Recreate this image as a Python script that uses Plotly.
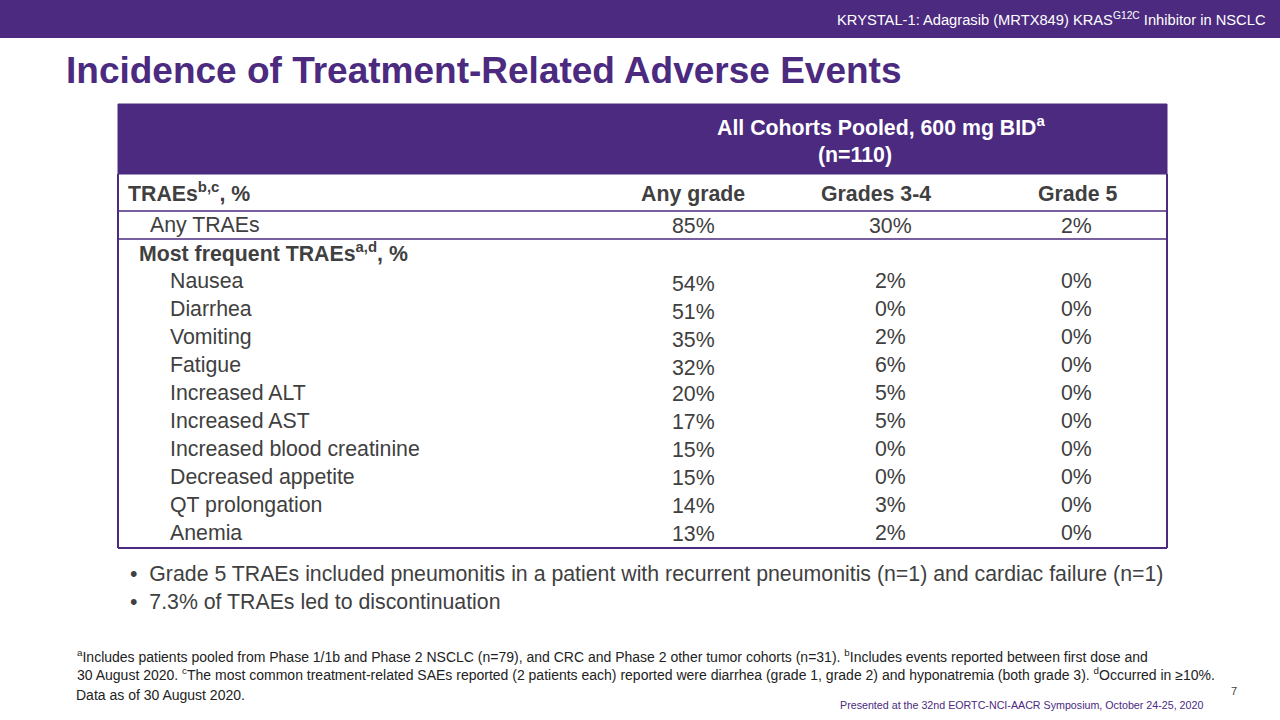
import plotly.graph_objects as go

# ---- data ----
col_headers = ["Any grade", "Grades 3-4", "Grade 5"]
any_traes = [85, 30, 2]
events = ["Nausea", "Diarrhea", "Vomiting", "Fatigue", "Increased ALT",
          "Increased AST", "Increased blood creatinine", "Decreased appetite",
          "QT prolongation", "Anemia"]
any_grade = [54, 51, 35, 32, 20, 17, 15, 15, 14, 13]
grades_3_4 = [2, 0, 2, 6, 5, 5, 0, 0, 3, 2]
grade_5 = [0, 0, 0, 0, 0, 0, 0, 0, 0, 0]

PURPLE = "#4B2A7F"
GRAY = "#404040"
FONT = "Liberation Sans, Arial, sans-serif"
BODY = 21.3

fig = go.Figure()
shapes = []
ann = []

def text(x, y, s, size=BODY, color=GRAY, xanchor="left", bold=False, yanchor="middle"):
    if bold:
        s = "<b>" + s + "</b>"
    ann.append(dict(x=x, y=y, xref="x", yref="y", text=s, showarrow=False,
                    xanchor=xanchor, yanchor=yanchor,
                    font=dict(family=FONT, size=size, color=color)))

# top bar
shapes.append(dict(type="rect", x0=0, x1=1280, y0=0, y1=38, fillcolor=PURPLE, line=dict(width=0), layer="below"))
text(1268, 19, "KRYSTAL-1: Adagrasib (MRTX849) KRAS<sup>G12C</sup> Inhibitor in NSCLC", size=14.7, color="white", xanchor="right")

# title
text(64, 70, "Incidence of Treatment-Related Adverse Events", size=37, color=PURPLE, bold=True)

# table geometry
L, R = 118, 1167
col_x_head = [693, 876, 1077]
col_x_val = [693, 890, 1076]

shapes.append(dict(type="rect", x0=L, x1=R, y0=104, y1=174, fillcolor=PURPLE, line=dict(color=PURPLE, width=1)))
text(715, 126, "All Cohorts Pooled, 600 mg BID<sup>a</sup>", color="white", xanchor="left", bold=True)
text(855, 155, "(n=110)", color="white", xanchor="center", bold=True)

# table borders
for y in (211, 239):
    shapes.append(dict(type="line", x0=L, x1=R, y0=y, y1=y, line=dict(color=PURPLE, width=1.5)))
shapes.append(dict(type="line", x0=L, x1=R, y0=548, y1=548, line=dict(color=PURPLE, width=2)))
shapes.append(dict(type="line", x0=L, x1=L, y0=174, y1=548, line=dict(color=PURPLE, width=2)))
shapes.append(dict(type="line", x0=R, x1=R, y0=174, y1=548, line=dict(color=PURPLE, width=2)))

# column header row
text(126, 192, "TRAEs<sup>b,c</sup>, %", bold=True)
for h, x in zip(col_headers, col_x_head):
    text(x, 194, h, xanchor="center", bold=True)

# Any TRAEs row
text(148, 225, "Any TRAEs")
for v, x in zip(any_traes, col_x_val):
    text(x, 226, f"{v}%", xanchor="center")

# Most frequent
text(137, 252, "Most frequent TRAEs<sup>a,d</sup>, %", bold=True)
for i, ev in enumerate(events):
    y = 281 + 28 * i
    text(168, y, ev)
    text(col_x_val[0], y + (3 if i < 4 else 1), f"{any_grade[i]}%", xanchor="center")
    text(col_x_val[1], y, f"{grades_3_4[i]}%", xanchor="center")
    text(col_x_val[2], y, f"{grade_5[i]}%", xanchor="center")

# bullets
text(128, 574, "•  Grade 5 TRAEs included pneumonitis in a patient with recurrent pneumonitis (n=1) and cardiac failure (n=1)")
text(128, 602, "•  7.3% of TRAEs led to discontinuation")

# footnotes
text(75, 656, "<sup>a</sup>Includes patients pooled from Phase 1/1b and Phase 2 NSCLC (n=79), and CRC and Phase 2 other tumor cohorts (n=31). <sup>b</sup>Includes events reported between first dose and", size=14, color="#222222")
text(75, 674, "30 August 2020. <sup>c</sup>The most common treatment-related SAEs reported (2 patients each) reported were diarrhea (grade 1, grade 2) and hyponatremia (both grade 3). <sup>d</sup>Occurred in ≥10%.", size=14, color="#222222")
text(74, 695, "Data as of 30 August 2020.", size=14, color="#222222")
text(1239, 691, "7", size=11, color=GRAY, xanchor="right")
text(1205, 705, "Presented at the 32nd EORTC-NCI-AACR Symposium, October 24-25, 2020", size=10.7, color=PURPLE, xanchor="right")

fig.update_layout(
    width=1280, height=720,
    margin=dict(l=0, r=0, t=0, b=0),
    paper_bgcolor="white", plot_bgcolor="white",
    xaxis=dict(range=[0, 1280], visible=False, fixedrange=True),
    yaxis=dict(range=[720, 0], visible=False, fixedrange=True),
    shapes=shapes, annotations=ann, showlegend=False,
)
fig.write_html("out.html", config={"displayModeBar": False},
               post_script="document.body.style.margin='0';document.body.style.overflow='hidden';")
